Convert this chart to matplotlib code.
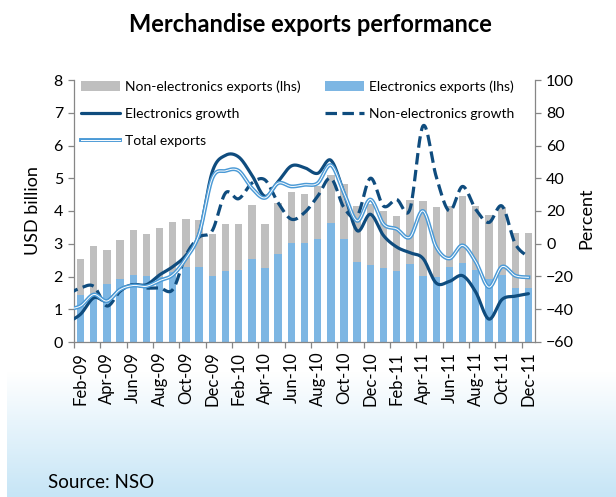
import numpy as np
import matplotlib
matplotlib.use('Agg')
import matplotlib.pyplot as plt
from matplotlib.lines import Line2D
from matplotlib.patches import Patch
import matplotlib.patheffects as pe
from matplotlib.ticker import FixedLocator, NullFormatter, FixedFormatter

plt.rcParams['font.family'] = ['Lato', 'DejaVu Sans']

# ---------------- data ----------------
months = ['Feb-09', 'Mar-09', 'Apr-09', 'May-09', 'Jun-09', 'Jul-09', 'Aug-09', 'Sep-09',
          'Oct-09', 'Nov-09', 'Dec-09', 'Jan-10', 'Feb-10', 'Mar-10', 'Apr-10', 'May-10',
          'Jun-10', 'Jul-10', 'Aug-10', 'Sep-10', 'Oct-10', 'Nov-10', 'Dec-10', 'Jan-11',
          'Feb-11', 'Mar-11', 'Apr-11', 'May-11', 'Jun-11', 'Jul-11', 'Aug-11', 'Sep-11',
          'Oct-11', 'Nov-11', 'Dec-11']
# growth lines start one month earlier (Jan-09, clipped at the axis edge)
line_months = ['Jan-09'] + months

# USD billion (lhs)
electronics_exports = [1.43, 1.45, 1.78, 1.92, 2.05, 2.02, 2.00, 2.15, 2.29, 2.29,
                       2.02, 2.17, 2.20, 2.53, 2.27, 2.69, 3.03, 3.01, 3.13, 3.62,
                       3.13, 2.45, 2.36, 2.27, 2.17, 2.37, 2.02, 1.99, 2.29, 2.42,
                       2.19, 1.92, 2.04, 1.64, 1.64]
non_electronics_exports = [1.09, 1.48, 1.04, 1.18, 1.37, 1.29, 1.48, 1.51, 1.47, 1.43,
                           1.29, 1.42, 1.39, 1.65, 1.32, 1.56, 1.54, 1.52, 1.64, 1.48,
                           1.68, 1.70, 1.86, 1.73, 1.69, 1.98, 2.30, 2.12, 1.87, 2.05,
                           1.96, 1.97, 2.09, 1.70, 1.70]

# Percent (rhs)
electronics_growth = [-48, -43, -33, -35, -28, -25, -25, -19, -14, -7, 6,
                      44, 54, 53, 42, 29, 38, 47.5, 46.5, 43, 51,
                      31, 8, 18, 5, -2, -5.5, -9, -24, -23, -19.5,
                      -29.5, -46, -34, -32, -30.5]
non_electronics_growth = [-31, -27, -26, -38, -29, -25, -27, -27, -28, -7, 4,
                          8, 31, 27.5, 37, 39, 25, 15, 19, 29, 40,
                          22, 17, 40, 23, 27, 21, 72, 41, 20, 35,
                          21, 13, 23, 0, -8]
total_exports_growth = [-40, -38, -31, -35, -28, -25.5, -26, -22.5, -19, -9, 6,
                        40, 44.5, 44.6, 34, 28, 37, 35, 36, 37, 48,
                        31, 14, 27, 12, 9, 4, 20, -2, -9, -1,
                        -11, -26.5, -14, -19.5, -20.5]

tick_labels = months[::2]

# ---------------- helpers ----------------
def smooth(xs, ys, n=24):
    """Excel-like smoothed line (cubic Bezier through each point)."""
    xs = np.asarray(xs, float)
    ys = np.asarray(ys, float)
    P = np.column_stack([xs, ys])
    P = np.vstack([P[0], P, P[-1]])
    out = []
    t = np.linspace(0, 1, n)[:, None]
    for i in range(1, len(P) - 2):
        p0, p1, p2, p3 = P[i - 1], P[i], P[i + 1], P[i + 2]
        c1 = p1 + (p2 - p0) / 6.0
        c2 = p2 - (p3 - p1) / 6.0
        seg = ((1 - t) ** 3) * p1 + 3 * ((1 - t) ** 2) * t * c1 + 3 * (1 - t) * t ** 2 * c2 + t ** 3 * p2
        out.append(seg if i == 1 else seg[1:])
    out = np.vstack(out)
    return out[:, 0], out[:, 1]

W, H = 616, 497
fig = plt.figure(figsize=(W / 100, H / 100), dpi=100)
fig.patch.set_facecolor('white')

# background gradient in the lower part
gax = fig.add_axes([7 / W, 0, 1 - 7 / W, 125 / H], zorder=-10)
top = np.array([1.0, 1.0, 1.0])
bot = np.array([0xc6, 0xe5, 0xf6]) / 255
g = np.linspace(0, 1, 256)[:, None]
grad = top * (1 - g) + bot * g
gax.imshow(grad[:, None, :].repeat(2, axis=1), aspect='auto', extent=[0, 1, 0, 1])
gax.set_axis_off()

ax = fig.add_axes([74 / W, 155 / H, 461 / W, 262 / H])
ax.set_facecolor('none')
x = np.arange(len(months))
xl = np.arange(len(line_months)) - 1

c_blue = '#7db6e3'
c_gray = '#bfbfbf'
c_dark = '#0f4c7e'
c_light = '#4b9ad6'
spine_c = '#868686'

bw = 0.56
b1 = ax.bar(x, electronics_exports, width=bw, color=c_blue, zorder=2)
b2 = ax.bar(x, non_electronics_exports, width=bw, bottom=electronics_exports, color=c_gray, zorder=2)

ax.set_xlim(-0.5, len(months) - 0.5)
ax.set_ylim(0, 8)
ax.set_yticks(range(0, 9))

ax2 = ax.twinx()
ax2.set_ylim(-60, 100)
ax2.set_yticks(range(-60, 101, 20))

sx, sy = smooth(xl, electronics_growth)
l1, = ax2.plot(sx, sy, color=c_dark, lw=2.3, solid_capstyle='round', zorder=3)
sx, sy = smooth(xl, non_electronics_growth)
l2, = ax2.plot(sx, sy, color=c_dark, lw=2.3, linestyle=(0, (3.6, 1.7)), zorder=3)
sx, sy = smooth(xl, total_exports_growth)
l3, = ax2.plot(sx, sy, color='white', lw=0.7, zorder=4,
               path_effects=[pe.Stroke(linewidth=2.8, foreground=c_light), pe.Normal()])

# axes styling
for a in (ax, ax2):
    for s in a.spines.values():
        s.set_color(spine_c)
        s.set_linewidth(0.9)
    a.spines['top'].set_visible(False)
ax2.spines['left'].set_visible(False)
ax2.spines['bottom'].set_visible(False)
ax.spines['right'].set_visible(False)

ax.tick_params(axis='y', direction='out', length=4, width=0.9, color=spine_c,
               labelsize=11.5, pad=4, labelcolor='black')
ax2.tick_params(axis='y', direction='out', length=4, width=0.9, color=spine_c,
                labelsize=11.5, pad=4, labelcolor='black')

ax.xaxis.set_major_locator(FixedLocator(np.arange(-0.5, len(months) - 1, 2)))
ax.xaxis.set_major_formatter(NullFormatter())
ax.xaxis.set_minor_locator(FixedLocator(x[::2]))
ax.xaxis.set_minor_formatter(FixedFormatter(tick_labels))
ax.tick_params(axis='x', which='major', direction='out', length=4, width=0.9, color=spine_c)
ax.tick_params(axis='x', which='minor', length=0, pad=7, labelsize=12, labelrotation=90,
               labelcolor='black')

# texts
fig.text(33 / W, 1 - 211 / H, 'USD billion', rotation=90, ha='center', va='center', fontsize=13)
fig.text(586 / W, 1 - 218 / H, 'Percent', rotation=90, ha='center', va='center', fontsize=13)
fig.text(310 / W, 1 - 24 / H, 'Merchandise exports performance', ha='center', va='center',
         fontsize=17, fontweight='bold')
fig.text(48 / W, 1 - 482 / H, 'Source: NSO', ha='left', va='center', fontsize=13.5)

# legends
h_gray = Patch(facecolor=c_gray, edgecolor='none')
h_blue = Patch(facecolor=c_blue, edgecolor='none')
common = dict(frameon=False, fontsize=10, handlelength=2.8, handletextpad=0.4,
              labelspacing=1.1, borderpad=0, borderaxespad=0, loc='upper left',
              bbox_transform=fig.transFigure)
leg1 = ax2.legend([h_gray, l1, l3], ['Non-electronics exports (lhs)', 'Electronics growth', 'Total exports'],
                  bbox_to_anchor=(81 / W, 1 - 80 / H), **common)
ax2.add_artist(leg1)
leg2 = ax2.legend([h_blue, l2], ['Electronics exports (lhs)', 'Non-electronics growth'],
                  bbox_to_anchor=(325 / W, 1 - 80 / H), **common)

fig.savefig('out.png', dpi=100)
